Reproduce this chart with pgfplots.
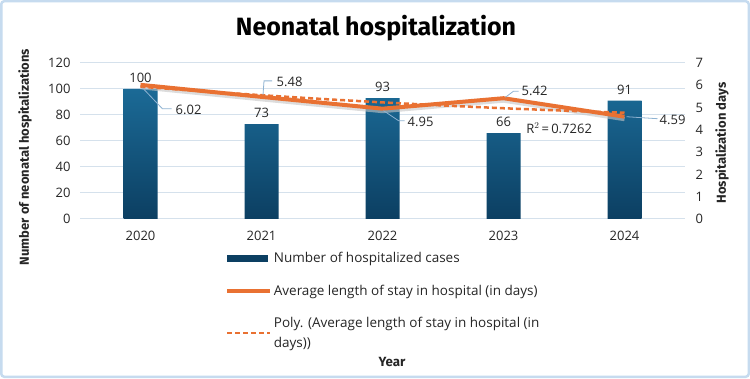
\documentclass[border=0pt]{standalone}
\usepackage{pgfplots}
\pgfplotsset{compat=1.18}
\usetikzlibrary{calc}
\usepackage{fontspec}
\setmainfont{Open Sans}
\newfontfamily\titlefont{Fira Sans}
\definecolor{barTop}{HTML}{1B6A96}
\definecolor{barBot}{HTML}{0C3F62}
\definecolor{lineOr}{HTML}{E97132}
\definecolor{gridc}{HTML}{D5E1EC}
\definecolor{frame}{HTML}{C6DBEF}
\definecolor{leader}{HTML}{8FB3D2}
\definecolor{txt}{HTML}{262626}
\tikzset{lbl/.style={anchor=west, font=\fontsize{13}{15}\selectfont, text=txt, inner sep=0pt}, ldr/.style={leader, line width=0.8pt}}
\begin{document}
\begin{tikzpicture}
\path[use as bounding box] (0pt,0pt) rectangle (750pt,378pt);
\draw[frame, line width=2.5pt, rounded corners=3pt, fill=white] (1.25pt,1.25pt) rectangle (748.75pt,376.75pt);
\node[font=\titlefont\fontsize{25}{28}\selectfont\bfseries, text=black] at (376pt,350pt) {Neonatal hospitalization};
\node[font=\titlefont\fontsize{13}{15}\selectfont\bfseries, rotate=90, text=txt] at (25pt,221pt) {Number of neonatal hospitalizations};
\node[font=\titlefont\fontsize{13}{15}\selectfont\bfseries, rotate=90, text=txt] at (722pt,235pt) {Hospitalization days};
\node[font=\titlefont\fontsize{13.3}{15}\selectfont\bfseries, text=txt] at (392pt,16pt) {Year};
\begin{axis}[
  at={(80pt,159pt)}, anchor=south west,
  scale only axis, width=605pt, height=156pt,
  xmin=-0.5, xmax=4.5, ymin=0, ymax=120,
  xtick={0,1,2,3,4}, xticklabels={2020,2021,2022,2023,2024},
  ytick={0,20,...,120},
  axis line style={draw=none}, tick style={draw=none},
  ymajorgrids, grid style={gridc, line width=1pt},
  ticklabel style={font=\fontsize{13}{15}\selectfont, text=txt},
  /pgf/number format/assume math mode=true,
  xticklabel style={yshift=-9pt},
  yticklabel style={xshift=-6pt},
]
\addplot[ybar, bar width=34pt, draw=none, top color=barTop, bottom color=barBot,
  nodes near coords, every node near coord/.append style={font=\fontsize{13}{15}\selectfont, text=txt, yshift=3pt}]
  coordinates {(0,100) (1,73) (2,93) (3,66) (4,91)};
\end{axis}
\begin{axis}[
  at={(80pt,159pt)}, anchor=south west,
  scale only axis, width=605pt, height=156pt,
  xmin=-0.5, xmax=4.5, ymin=0, ymax=7,
  xtick=\empty, ytick={0,1,...,7},
  axis y line*=right, axis x line=none,
  axis line style={draw=none}, tick style={draw=none},
  ticklabel style={font=\fontsize{13}{15}\selectfont, text=txt},
  /pgf/number format/assume math mode=true,
  yticklabel style={xshift=7pt},
  clip=false,
  legend style={at={(axis description cs:0.235,-0.19)}, anchor=north west, draw=none, fill=none,
    font=\fontsize{13.5}{20}\selectfont, text=txt, row sep=17.5pt,
    nodes={align=left, inner sep=1.5pt}},
  legend cell align=left,
]
\addlegendimage{legend image code/.code={\fill[barBot] (0pt,-2.8pt) rectangle (40pt,2.8pt);}}
\addlegendentry{Number of hospitalized cases}
% shadow
\addplot[gray!45, line width=4pt, opacity=0.6, yshift=-2.5pt, forget plot] coordinates {(0,6.02) (1,5.48) (2,4.95) (3,5.42) (4,4.59)};
\addplot[lineOr, line width=4pt, legend image code/.code={\draw[lineOr, line width=4pt] (0pt,0pt) -- (43pt,0pt);}]
  coordinates {(0,6.02) (1,5.48) (2,4.95) (3,5.42) (4,4.59)};
\addlegendentry{Average length of stay in hospital (in days)}
\addplot[lineOr, line width=2.5pt, dash pattern=on 5pt off 3pt, legend image code/.code={\draw[lineOr, line width=2pt, dash pattern=on 5pt off 3pt] (0pt,0pt) -- (43pt,0pt);}]
  coordinates {(0,5.936) (0.5,5.7375) (1,5.554) (1.5,5.3855) (2,5.232) (2.5,5.0935) (3,4.97) (3.5,4.8615) (4,4.768)};
\addlegendentry{Poly. (Average length of stay in hospital (in\\days))}
% data labels with leaders
\draw[ldr] ($(axis cs:0,6.02)+(2pt,-3pt)$) -- ++(20pt,-21pt) -- ++(9pt,0pt);
\node[lbl] at ($(axis cs:0,6.02)+(35pt,-25pt)$) {6.02};
\draw[ldr] ($(axis cs:1,5.48)+(1.5pt,2pt)$) -- ++(1pt,14pt) -- ++(8pt,0pt);
\node[lbl] at ($(axis cs:1,5.48)+(15pt,15pt)$) {5.48};
\draw[ldr] ($(axis cs:2,4.95)+(1pt,-2pt)$) -- ++(15pt,-10pt) -- ++(6pt,0pt);
\node[lbl] at ($(axis cs:2,4.95)+(25pt,-13pt)$) {4.95};
\draw[ldr] ($(axis cs:3,5.42)+(2pt,1pt)$) -- ++(8pt,6pt) -- ++(5pt,0pt);
\node[lbl] at ($(axis cs:3,5.42)+(18pt,7pt)$) {5.42};
\draw[ldr] ($(axis cs:4,4.59)+(2pt,0pt)$) -- ++(31pt,-2pt);
\node[lbl] at ($(axis cs:4,4.59)+(35pt,-3pt)$) {4.59};
\node[font=\fontsize{13}{15}\selectfont, text=txt, inner sep=0pt] at (axis cs:3.46,4.08) {R$^2$\,=\,0.7262};
\end{axis}
\end{tikzpicture}
\end{document}
